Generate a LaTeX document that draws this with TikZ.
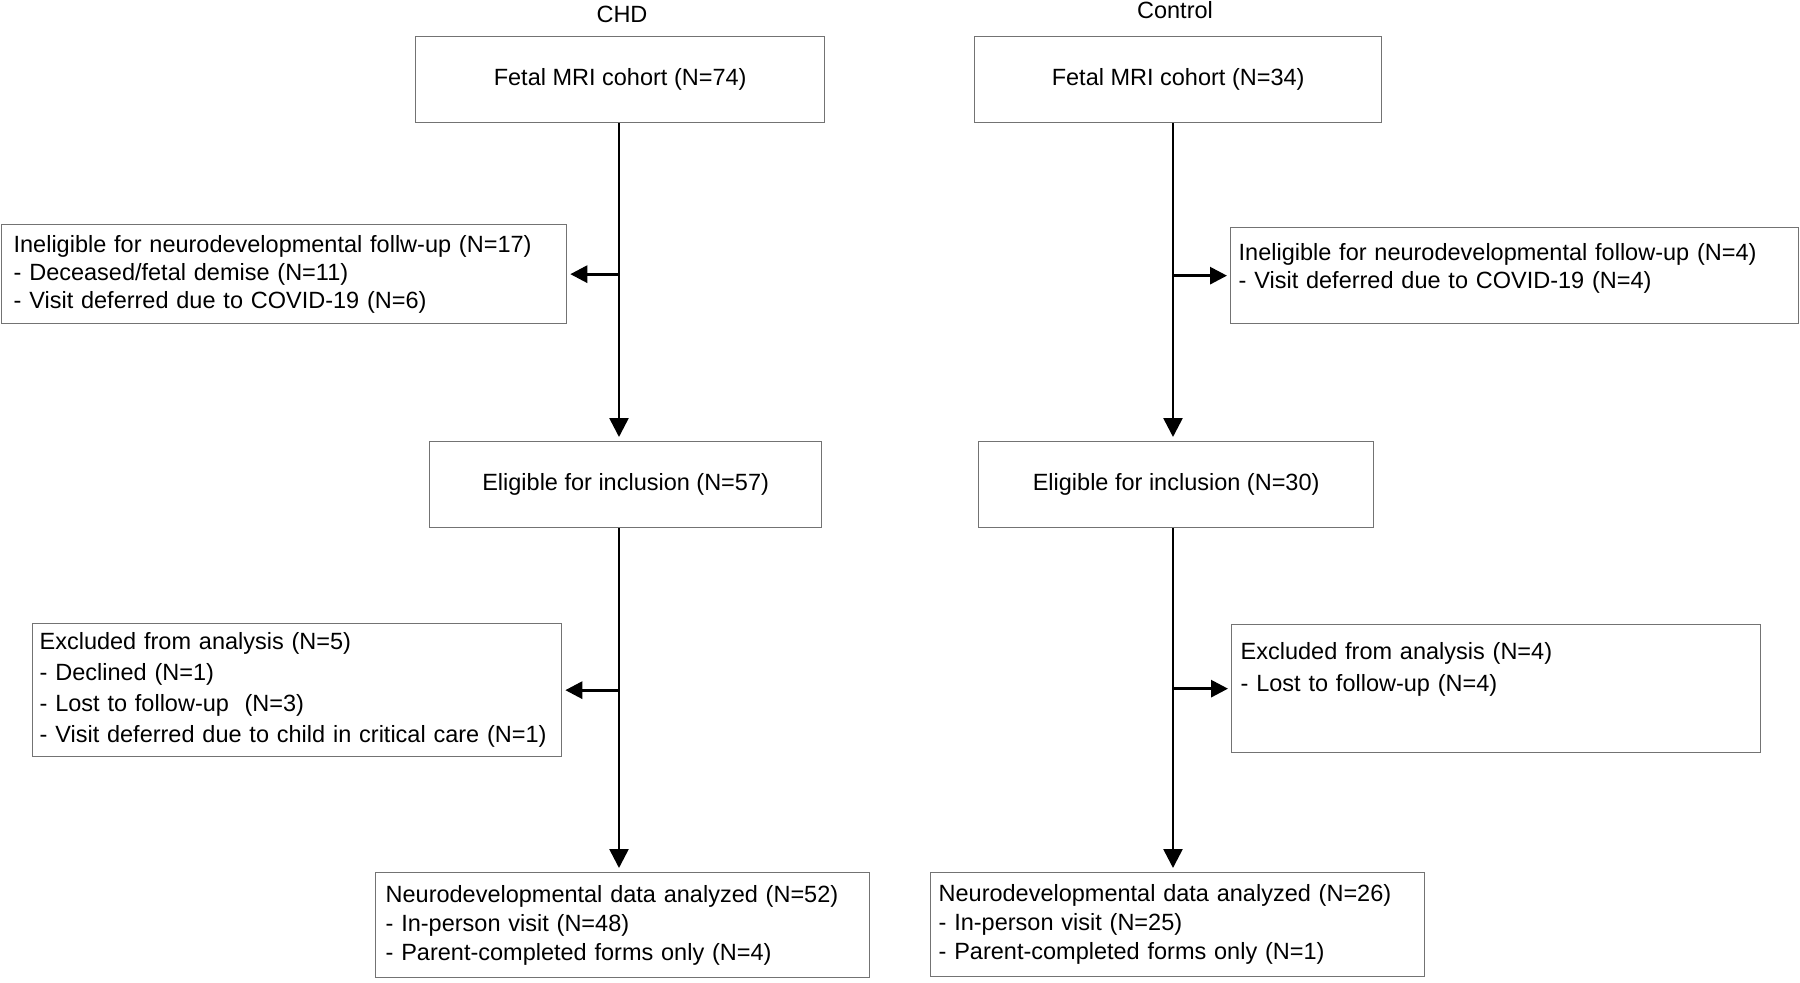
\documentclass[tikz,border=0pt]{standalone}
\usepackage{fontspec}
\setmainfont{Liberation Sans}
\usepackage{tikz}
\usetikzlibrary{arrows.meta}
\colorlet{boxgray}{black!55}

\tikzset{
  box/.style={draw=boxgray, line width=1.3pt, rectangle, align=left, anchor=north west,
    inner ysep=4pt, font=\fontsize{23.5}{28}\selectfont},
  cbox/.style={box, align=center},
  flow/.style={-{Triangle[length=19pt,width=19pt]}, line width=2.6pt, shorten >=4pt},
  branch/.style={-{Triangle[length=17pt,width=17pt]}, line width=3pt, shorten >=3pt}
}

\begin{document}
\begin{tikzpicture}[x=1pt,y=-1pt]
        \useasboundingbox (0,0) rectangle (1800,983);
        \node[font=\fontsize{23.5}{28}\selectfont] (chdlab) at (622,14) {CHD};
        \node[font=\fontsize{23.5}{28}\selectfont] (ctllab) at (1175,10) {Control};
        \coordinate (chdaxis) at (619,0);
        \coordinate (ctlaxis) at (1173,0);

        \node[cbox, minimum width=409pt, minimum height=86pt] (chdfetal) at (415,36) {Fetal MRI cohort (N=74)};
        \node[cbox, minimum width=407pt, minimum height=86pt] (ctlfetal) at (974,36) {Fetal MRI cohort (N=34)};
        \node[cbox, minimum width=392pt, minimum height=86pt] (chdelig) at (429,441) {Eligible for inclusion (N=57)};
        \node[cbox, minimum width=395pt, minimum height=86pt] (ctlelig) at (978,441) {Eligible for inclusion (N=30)};

        \node[box, text width=541pt, inner xsep=12pt, minimum height=99pt] (chdinel) at (1,224)
            {Ineligible for neurodevelopmental follw-up (N=17)\\- Deceased/fetal demise (N=11)\\- Visit deferred due to COVID-19 (N=6)};
        \node[box, text width=552pt, inner xsep=8pt, minimum height=96pt] (ctlinel) at (1230,227)
            {Ineligible for neurodevelopmental follow-up (N=4)\\- Visit deferred due to COVID-19 (N=4)\\[-9pt]~};
        \node[box, text width=515pt, inner xsep=7pt, minimum height=133pt] (chdexcl) at (32,623)
            {Excluded from analysis (N=5)\\[3pt]- Declined (N=1)\\[3pt]- Lost to follow-up~~(N=3)\\[3pt]- Visit deferred due to child in critical care (N=1)};
        \node[box, text width=511pt, inner xsep=9pt, minimum height=128pt] (ctlexcl) at (1231,624)
            {Excluded from analysis (N=4)\\[4pt]- Lost to follow-up (N=4)\\[16pt]~};
        \node[box, text width=474pt, inner xsep=10pt, minimum height=105pt] (chdneuro) at (375,872)
            {Neurodevelopmental data analyzed (N=52)\\[1pt]- In-person visit (N=48)\\[1pt]- Parent-completed forms only (N=4)};
        \node[box, text width=478pt, inner xsep=8pt, minimum height=104pt] (ctlneuro) at (930,872)
            {Neurodevelopmental data analyzed (N=26)\\[1pt]- In-person visit (N=25)\\[1pt]- Parent-completed forms only (N=1)};

        \foreach \x/\a/\b in {chdaxis/chdfetal/chdelig, chdaxis/chdelig/chdneuro, ctlaxis/ctlfetal/ctlelig, ctlaxis/ctlelig/ctlneuro}{
            \draw[flow] (\x |- \a.south) -- (\x |- \b.north);
        }
        \foreach \x/\b/\s in {chdaxis/chdinel/east, chdaxis/chdexcl/east, ctlaxis/ctlinel/west, ctlaxis/ctlexcl/west}{
            \draw[branch] (\x |- \b.\s) -- (\b.\s);
        }
\end{tikzpicture}
\end{document}
